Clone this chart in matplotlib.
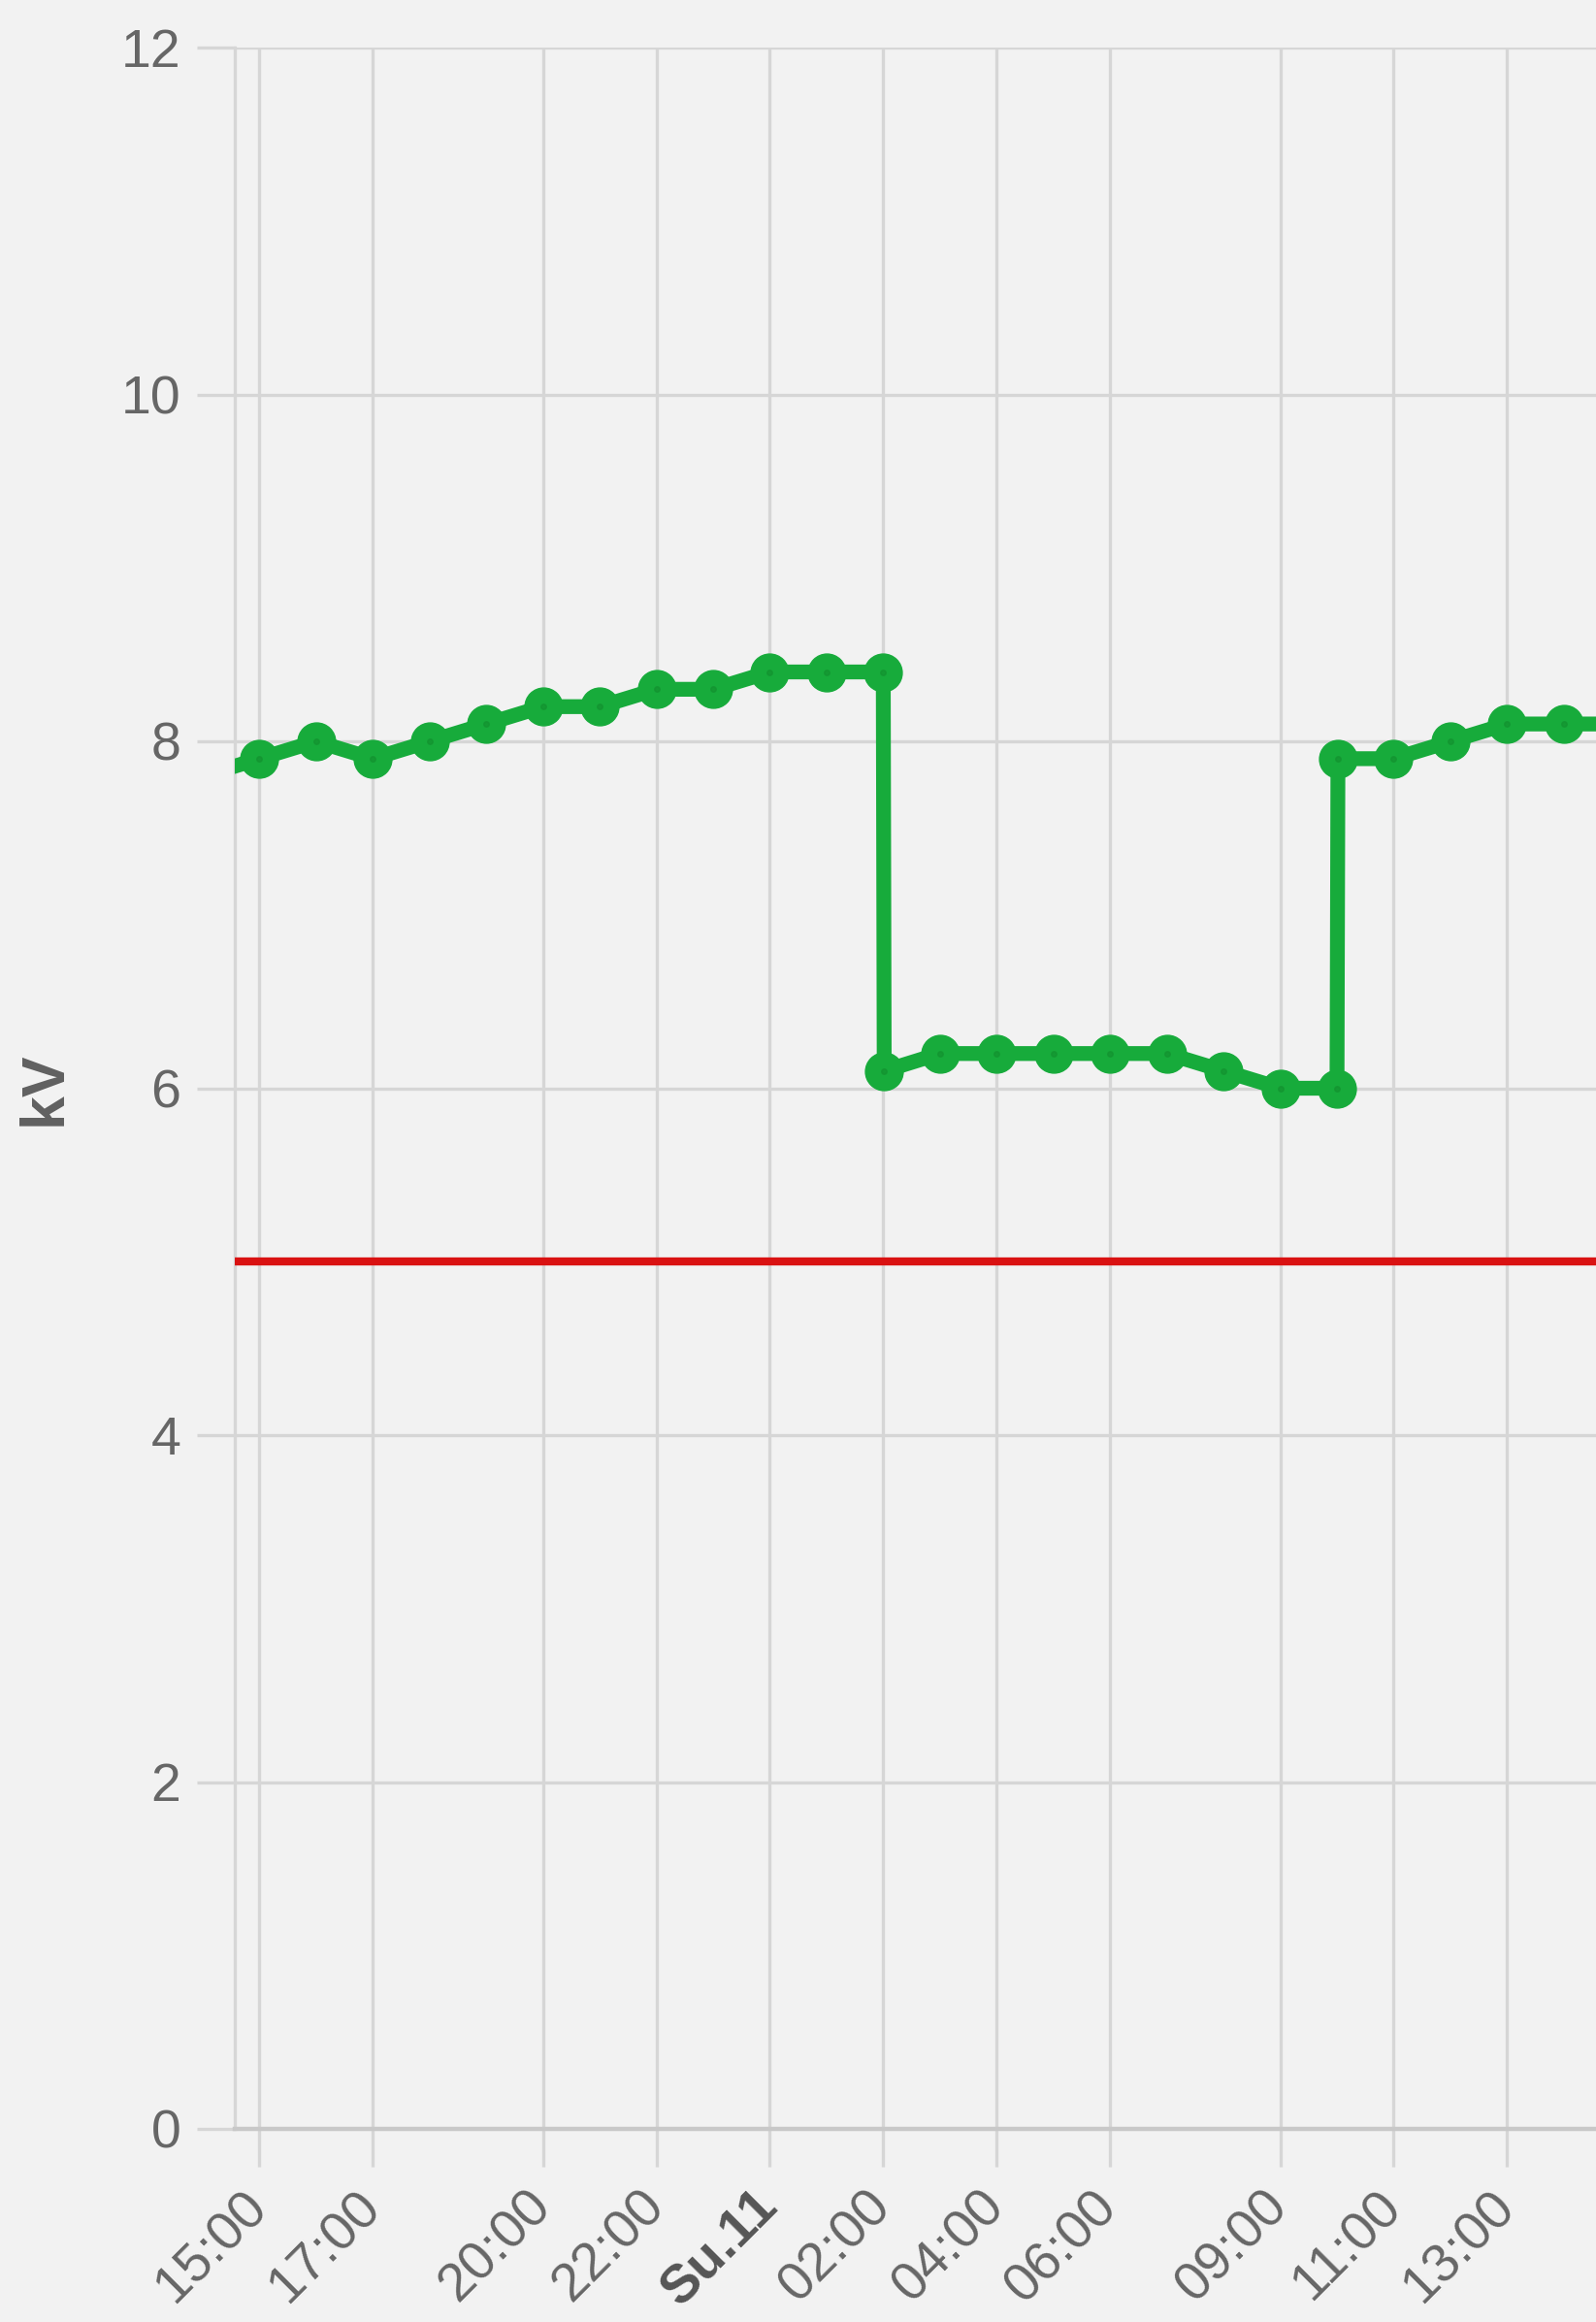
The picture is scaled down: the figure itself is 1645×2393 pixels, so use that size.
import numpy as np
import pandas as pd
import matplotlib
matplotlib.use("Agg")
import matplotlib.pyplot as plt

plt.rcParams['font.family'] = ['Liberation Sans', 'DejaVu Sans']

# hourly readings (kV), two readings almost at the same time where the level jumps
times = ['2022-09-10 14:00', '2022-09-10 15:00', '2022-09-10 16:00', '2022-09-10 17:00',
         '2022-09-10 18:00', '2022-09-10 19:00', '2022-09-10 20:00', '2022-09-10 21:00',
         '2022-09-10 22:00', '2022-09-10 23:00', '2022-09-11 00:00', '2022-09-11 01:00',
         '2022-09-11 02:00', '2022-09-11 02:01', '2022-09-11 03:00', '2022-09-11 04:00',
         '2022-09-11 05:00', '2022-09-11 06:00', '2022-09-11 07:00', '2022-09-11 08:00',
         '2022-09-11 09:00', '2022-09-11 10:00', '2022-09-11 10:01', '2022-09-11 11:00',
         '2022-09-11 12:00', '2022-09-11 13:00', '2022-09-11 14:00', '2022-09-11 15:00']
kv = [7.8, 7.9, 8.0, 7.9, 8.0, 8.1, 8.2, 8.2, 8.3, 8.3, 8.4, 8.4, 8.4, 6.1,
      6.2, 6.2, 6.2, 6.2, 6.2, 6.1, 6.0, 6.0, 7.9, 7.9, 8.0, 8.1, 8.1, 8.1]
limit_kv = 5

tick_times = ['2022-09-10 15:00', '2022-09-10 17:00', '2022-09-10 20:00', '2022-09-10 22:00',
              '2022-09-11 00:00', '2022-09-11 02:00', '2022-09-11 04:00', '2022-09-11 06:00',
              '2022-09-11 09:00', '2022-09-11 11:00', '2022-09-11 13:00']
tick_labels = ['15:00', '17:00', '20:00', '22:00', 'Su.11', '02:00', '04:00', '06:00',
               '09:00', '11:00', '13:00']
x_range = ['2022-09-10 14:34', '2022-09-11 14:34']

t = pd.to_datetime(times)
bg = '#f2f2f2'
grid_c = '#d6d6d6'
green = '#17ab3b'

W, H = 1645, 2393
fig = plt.figure(figsize=(W / 100, H / 100), dpi=100, facecolor=bg)
ax = fig.add_axes([242 / W, 199 / H, 1 - 242 / W, 2145 / H])
ax.set_facecolor(bg)

ax.axhline(limit_kv, color='#d91212', lw=6, zorder=3)
ax.plot(t, kv, color=green, lw=11, marker='o', ms=28, mec=green, mfc=green, zorder=4)
ax.plot(t, kv, ls='none', marker='o', ms=4, color='#12902f', alpha=0.6, zorder=5)

ax.set_ylim(0, 12)
ax.set_yticks(np.arange(0, 13, 2))
ax.set_xlim(pd.to_datetime(x_range))
ax.set_xticks(pd.to_datetime(tick_times))
ax.set_xticklabels(tick_labels, rotation=45, ha='right', va='center', rotation_mode='anchor')

ax.grid(True, color=grid_c, lw=2.4, zorder=1)
ax.tick_params(axis='both', length=28, width=2.4, color=grid_c, labelsize=40,
               labelcolor='#666666', pad=12)
ax.tick_params(axis='x', pad=24)
for s in ['top', 'right']:
    ax.spines[s].set_visible(False)
ax.spines['left'].set_color(grid_c)
ax.spines['left'].set_linewidth(2.4)
ax.spines['bottom'].set_color('#c8c8c8')
ax.spines['bottom'].set_linewidth(3.2)

for lab in ax.get_xticklabels():
    if lab.get_text() == 'Su.11':
        lab.set_fontweight('bold')
        lab.set_color('#555555')

fig.text(46 / W, 1 - 1122 / H, 'kV', rotation=90, ha='center', va='center',
         fontsize=45, fontweight='bold', color='#606060')

fig.savefig('out.png', dpi=100, facecolor=bg)
